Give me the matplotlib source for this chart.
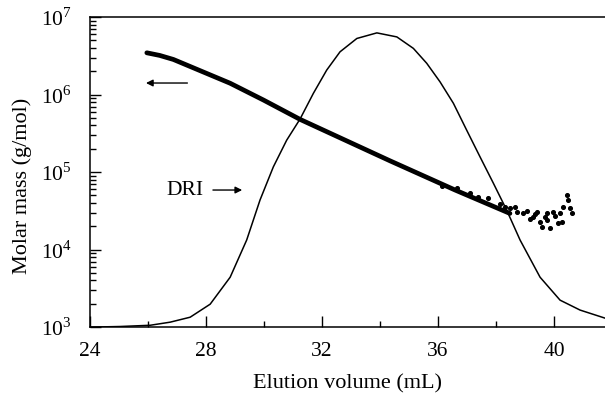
import math
import matplotlib
matplotlib.use("Agg")
import matplotlib.pyplot as plt
from matplotlib.ticker import FixedLocator, LogLocator, FuncFormatter, NullFormatter

plt.rcParams["font.family"] = ["Liberation Serif", "DejaVu Serif"]
plt.rcParams["mathtext.fontset"] = "custom"
plt.rcParams["mathtext.rm"] = "Liberation Serif"

# molar mass trace (dense part)
vol_dense = [25.955, 26.4, 26.87, 28.83, 29.98, 31.24, 34.34, 36.59, 38.48]
mass_dense = [3.46e6, 3.2e6, 2.84e6, 1.40e6, 8.5e5, 4.79e5, 1.40e5, 5.87e4, 2.93e4]

# noisy tail of the molar mass points
vol_tail = [36.14, 36.66, 37.1, 37.38, 37.72, 38.14, 38.31, 38.48, 38.66, 38.72,
            38.93, 39.07, 39.17, 39.28, 39.34, 39.41, 39.52, 39.59, 39.69, 39.76,
            39.76, 39.86, 39.97, 40.03, 40.14, 40.2, 40.28, 40.31, 40.45, 40.48,
            40.55, 40.62]
mass_tail = [6.6e4, 6.3e4, 5.4e4, 4.8e4, 4.6e4, 3.9e4, 3.5e4, 3.43e4, 3.5e4, 3.05e4,
             2.96e4, 3.14e4, 2.48e4, 2.62e4, 2.87e4, 3.05e4, 2.26e4, 1.95e4, 2.63e4, 2.96e4,
             2.4e4, 1.89e4, 3.05e4, 2.7e4, 2.2e4, 3.0e4, 2.26e4, 3.53e4, 5.05e4, 4.35e4,
             3.43e4, 2.96e4]

# DRI signal (arbitrary units, 0..1)
vol_dri = [24.0, 25.03, 26.07, 26.76, 27.45, 28.14, 28.83, 29.40, 29.86, 30.32,
           30.78, 31.24, 31.70, 32.16, 32.62, 33.20, 33.89, 34.58, 35.15, 35.61,
           36.07, 36.53, 36.99, 37.45, 37.91, 38.37, 38.83, 39.52, 40.21, 40.90, 41.76]
dri = [0.0, 0.002, 0.006, 0.016, 0.032, 0.074, 0.161, 0.281, 0.410, 0.517,
       0.603, 0.671, 0.754, 0.829, 0.888, 0.931, 0.949, 0.936, 0.899, 0.851,
       0.791, 0.722, 0.635, 0.549, 0.464, 0.377, 0.281, 0.161, 0.087, 0.055, 0.029]

fig = plt.figure(figsize=(6.05, 3.97), dpi=100)
ax = fig.add_axes([0.149, 0.176, 0.851, 0.781])

ax.plot(vol_dense, mass_dense, color="black", lw=3.4, solid_capstyle="round",
        solid_joinstyle="round", zorder=3)
ax.scatter(vol_tail, mass_tail, s=7, color="black", zorder=3)

ax.set_yscale("log")
ax.set_xlim(24, 41.76)
ax.set_ylim(1e3, 1e7)

ax2 = ax.twinx()
ax2.plot(vol_dri, dri, color="black", lw=1.1, solid_joinstyle="round")
ax2.set_ylim(0, 1)
ax2.set_xlim(24, 41.76)
ax2.axis("off")

ax.xaxis.set_major_locator(FixedLocator([24, 28, 32, 36, 40]))
ax.xaxis.set_minor_locator(FixedLocator([26, 30, 34, 38]))
ax.yaxis.set_major_locator(LogLocator(base=10, numticks=10))
ax.yaxis.set_minor_locator(LogLocator(base=10, subs=range(2, 10), numticks=20))
ax.yaxis.set_minor_formatter(NullFormatter())
ax.yaxis.set_major_formatter(FuncFormatter(lambda v, p: r"$10^{%d}$" % round(math.log10(v))))

ax.tick_params(which="both", direction="in", top=False, right=False, labelsize=15.5, width=1)
ax.tick_params(which="major", length=8)
ax.tick_params(which="minor", length=4.5)
ax.tick_params(axis="x", which="major", pad=11)
ax.tick_params(axis="y", which="major", pad=13)
ax.spines["right"].set_visible(False)
for s in ("left", "bottom", "top"):
    ax.spines[s].set_linewidth(1.1)

ax.set_xlabel("Elution volume (mL)", fontsize=16, labelpad=9)
ax.set_ylabel("Molar mass (g/mol)", fontsize=16)
ax.yaxis.set_label_coords(-0.113, 0.455)

ax.annotate("", xy=(25.83, 1.41e6), xytext=(27.45, 1.41e6),
            arrowprops=dict(arrowstyle="-|>", color="black", lw=1, mutation_scale=10))
ax.annotate("", xy=(29.34, 5.87e4), xytext=(28.14, 5.87e4),
            arrowprops=dict(arrowstyle="-|>", color="black", lw=1, mutation_scale=10))
ax.text(27.9, 5.87e4, "DRI", fontsize=15.5, ha="right", va="center")

fig.savefig("out.png", dpi=100)
